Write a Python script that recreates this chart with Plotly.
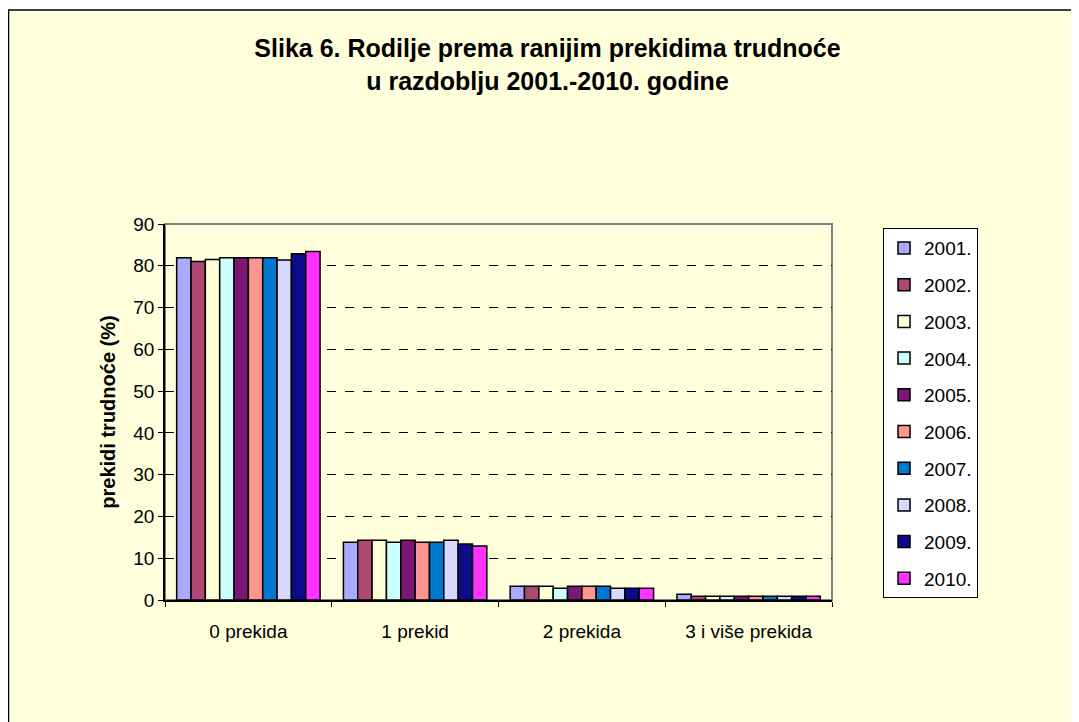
import plotly.graph_objects as go

# kategorije i podaci (%)
categories = ["0 prekida", "1 prekid", "2 prekida", "3 i više prekida"]
years = ["2001.", "2002.", "2003.", "2004.", "2005.", "2006.", "2007.", "2008.", "2009.", "2010."]
v2001 = [81.9, 13.8, 3.3, 1.4]
v2002 = [81.0, 14.3, 3.3, 0.9]
v2003 = [81.5, 14.3, 3.3, 0.9]
v2004 = [81.9, 13.8, 2.8, 0.9]
v2005 = [81.9, 14.3, 3.3, 0.9]
v2006 = [81.9, 13.8, 3.3, 0.9]
v2007 = [81.9, 13.8, 3.3, 0.9]
v2008 = [81.4, 14.3, 2.8, 0.9]
v2009 = [82.9, 13.4, 2.8, 0.9]
v2010 = [83.4, 12.9, 2.8, 0.9]
series = [v2001, v2002, v2003, v2004, v2005, v2006, v2007, v2008, v2009, v2010]
colors = ["#AAAAFF", "#AD4A73", "#FFFFD5", "#CCFFFF", "#7B1774",
          "#FF9490", "#0078D0", "#D7D7FF", "#0B0B8B", "#FF33FF"]

fig = go.Figure()
for name, vals, col in zip(years, series, colors):
    fig.add_trace(go.Bar(
        x=categories, y=vals, name=name, legendgroup=name,
        marker=dict(color=col, line=dict(color="black", width=1.5)),
    ))

# žuta pozadina okvira
fig.add_shape(type="rect", xref="paper", yref="paper",
              x0=-0.2346, x1=1.6, y0=-0.6, y1=1.569,
              fillcolor="#FFFFDC", line=dict(color="black", width=1.5),
              layer="below")
# rub područja grafikona
fig.add_shape(type="rect", xref="paper", yref="paper",
              x0=0, x1=1, y0=0, y1=1,
              line=dict(color="#808080", width=2), layer="below")

fig.update_layout(
    width=1079, height=722,
    margin=dict(l=157, r=255, t=216, b=130),
    paper_bgcolor="white", plot_bgcolor="#C0C0C0",
    font=dict(family="Arial, Liberation Sans", size=19, color="black"),
    barmode="group", bargap=0.14, bargroupgap=0,
    title=dict(text="<b>Slika 6. Rodilje prema ranijim prekidima trudnoće<br>u razdoblju 2001.-2010. godine</b>",
               x=0.5, xanchor="center", y=0.932, yanchor="middle",
               font=dict(size=25)),
    legend=dict(x=1.0765, y=0.989, xanchor="left", yanchor="top",
                bgcolor="white", bordercolor="black", borderwidth=1,
                traceorder="grouped", tracegroupgap=9, maxheight=700,
                font=dict(size=19)),
    showlegend=True,
)
fig.update_xaxes(showline=True, linecolor="black", linewidth=1.5,
                 ticks="outside", tickson="boundaries", ticklen=5, tickcolor="black",
                 ticklabelstandoff=13, showgrid=False)
fig.update_yaxes(range=[0, 90], dtick=10, showline=True, linecolor="black", linewidth=1.5,
                 ticks="outside", ticklen=5, tickcolor="black",
                 showgrid=True, gridcolor="black", griddash="dash", gridwidth=1,
                 zeroline=False,
                 title=dict(text="<b>prekidi trudnoće (%)</b>", standoff=12, font=dict(size=20)))

fig.write_html("out.html")
